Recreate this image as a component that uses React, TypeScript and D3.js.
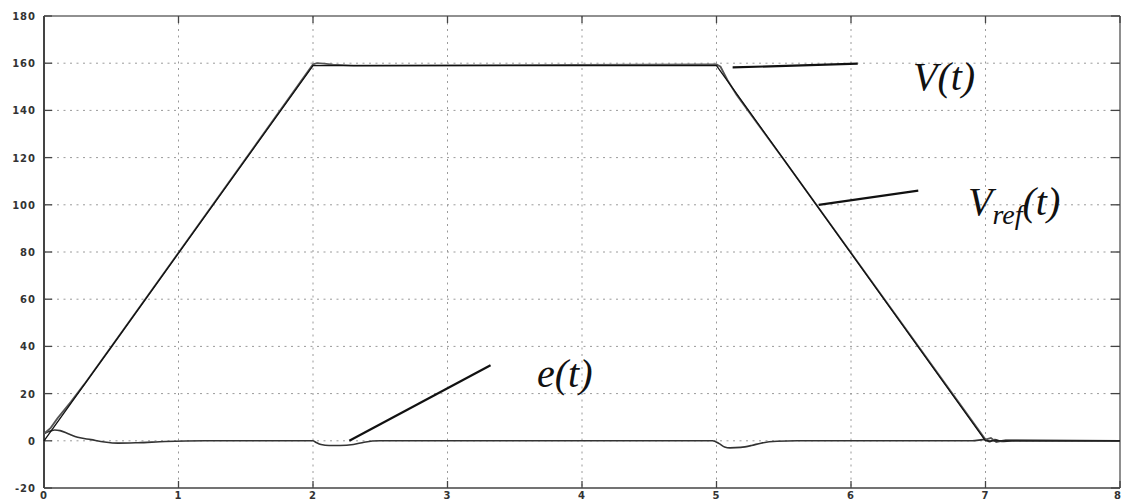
import React from "react";
import * as d3 from "d3";

const W = 1121;
const H = 502;

const xTicks = [0, 1, 2, 3, 4, 5, 6, 7, 8];
const yTicks = [-20, 0, 20, 40, 60, 80, 100, 120, 140, 160, 180];

// Reference speed Vref(t)
const vrefT = [0, 2, 5, 7, 8];
const vrefV = [0, 159, 159, 0, 0];

// Measured speed V(t)
const vT = [0, 0.05, 0.1, 0.15, 0.2, 0.3, 0.5, 2.0, 2.03, 2.08, 2.15, 2.3, 5.0, 5.03, 5.08, 5.15, 5.3, 5.5, 7.0, 7.04, 7.08, 7.15, 8];
const vV = [3, 5.5, 9.5, 13, 16.5, 24, 39.8, 159.5, 160, 159.8, 159.4, 159, 159.5, 158.5, 153, 146.5, 134.8, 119.2, 0.5, 1.2, -0.5, 0.3, 0];

// Error e(t)
const eT = [0, 0.03, 0.08, 0.12, 0.18, 0.25, 0.35, 0.45, 0.55, 0.7, 0.9, 1.2, 2.0, 2.02, 2.06, 2.12, 2.2, 2.3, 2.38, 2.5, 4.97, 5.02, 5.06, 5.1, 5.18, 5.26, 5.33, 5.45, 5.6, 6.9, 7.0, 7.03, 7.07, 7.12, 7.2, 8];
const eV = [3, 3.8, 4.6, 4.3, 3, 1.5, 0.5, -0.5, -1, -0.8, -0.3, 0, 0, -0.6, -1.6, -2, -2, -1.6, -0.6, 0, 0, -1.2, -2.6, -3, -2.8, -2, -1, -0.2, 0, 0, 0.6, -0.4, 0.5, -0.3, 0, 0];

const M = { left: 44, right: 1120, top: 16, bottom: 488 };

export default function App() {
  const x = d3.scaleLinear().domain([0, 8]).range([M.left, M.right]);
  const y = d3.scaleLinear().domain([-20, 180]).range([M.bottom, M.top]);

  const line = d3
    .line<[number, number]>()
    .x((d) => x(d[0]))
    .y((d) => y(d[1]));

  const vrefPath = line(vrefT.map((t, i) => [t, vrefV[i]]) as [number, number][]) || "";
  const vPath = line(vT.map((t, i) => [t, vV[i]]) as [number, number][]) || "";
  const ePath =
    d3
      .line<[number, number]>()
      .x((d) => x(d[0]))
      .y((d) => y(d[1]))
      .curve(d3.curveMonotoneX)(eT.map((t, i) => [t, eV[i]]) as [number, number][]) || "";

  const tickFont = {
    fontFamily: "'DejaVu Sans', sans-serif",
    fontWeight: 700,
    fontSize: 10,
    fill: "#333",
    letterSpacing: 1,
  } as React.CSSProperties;

  const labelFont = {
    fontFamily: "'Liberation Serif', serif",
    fontStyle: "italic",
    fill: "#111",
  } as React.CSSProperties;

  return (
    <svg
      width={W}
      height={H}
      style={{ position: "absolute", left: 0, top: 0, background: "#fff" }}
    >
      <rect x={0} y={0} width={W} height={H} fill="#fff" />
      {/* grid */}
      <g stroke="#9a9a9a" strokeWidth={1} strokeDasharray="2,4.5">
        {yTicks
          .filter((v) => v !== -20 && v !== 180)
          .map((v) => (
            <line key={"gy" + v} x1={M.left} x2={M.right} y1={y(v)} y2={y(v)} />
          ))}
        {xTicks
          .filter((t) => t !== 0 && t !== 8)
          .map((t) => (
            <line key={"gx" + t} x1={x(t)} x2={x(t)} y1={M.top} y2={M.bottom} />
          ))}
      </g>
      {/* frame */}
      <line x1={M.left} x2={M.right} y1={M.top} y2={M.top} stroke="#222" strokeWidth={1.2} />
      <line x1={M.right} x2={M.right} y1={M.top} y2={M.bottom} stroke="#444" strokeWidth={1.2} />
      <line x1={M.left} x2={M.right} y1={M.bottom} y2={M.bottom} stroke="#444" strokeWidth={1.5} />
      <line x1={M.left} x2={M.left} y1={M.top} y2={M.bottom} stroke="#444" strokeWidth={2} />
      {/* ticks */}
      <g stroke="#444" strokeWidth={1.3}>
        {yTicks.map((v) => (
          <g key={"ty" + v}>
            <line x1={M.left} x2={M.left + 8} y1={y(v)} y2={y(v)} />
            <line x1={M.right - 9} x2={M.right} y1={y(v)} y2={y(v)} />
          </g>
        ))}
        {xTicks.map((t) => (
          <g key={"tx" + t}>
            <line x1={x(t)} x2={x(t)} y1={M.bottom} y2={M.bottom - 7} />
            <line x1={x(t)} x2={x(t)} y1={M.top} y2={M.top + 7} />
          </g>
        ))}
      </g>
      {/* tick labels */}
      {yTicks.map((v) => (
        <text key={"ly" + v} x={M.left - 8} y={y(v) + 4} textAnchor="end" style={tickFont}>
          {v}
        </text>
      ))}
      {xTicks.map((t, i) => (
        <text
          key={"lx" + t}
          x={i === xTicks.length - 1 ? x(t) - 2 : x(t)}
          y={499}
          textAnchor="middle"
          style={tickFont}
        >
          {t}
        </text>
      ))}
      {/* data */}
      <path d={ePath} fill="none" stroke="#333" strokeWidth={1.6} />
      <path d={vPath} fill="none" stroke="#555" strokeWidth={1.8} />
      <path d={vrefPath} fill="none" stroke="#111" strokeWidth={1.3} />
      {/* annotations */}
      <g stroke="#111" strokeWidth={2.2}>
        <line x1={x(5.12)} y1={y(158.2)} x2={x(6.05)} y2={y(159.8)} />
        <line x1={x(5.76)} y1={y(100)} x2={x(6.5)} y2={y(106)} />
        <line x1={x(2.27)} y1={y(0)} x2={x(3.32)} y2={y(32)} />
      </g>
      <text x={913} y={90} style={{ ...labelFont, fontSize: 40 }}>
        V(t)
      </text>
      <text x={968} y={215} style={{ ...labelFont, fontSize: 40 }}>
        V
        <tspan dy={9} style={{ fontSize: 28 }}>
          ref
        </tspan>
        <tspan dy={-9}>(t)</tspan>
      </text>
      <text x={537} y={387} style={{ ...labelFont, fontSize: 40 }}>
        e(t)
      </text>
    </svg>
  );
}
